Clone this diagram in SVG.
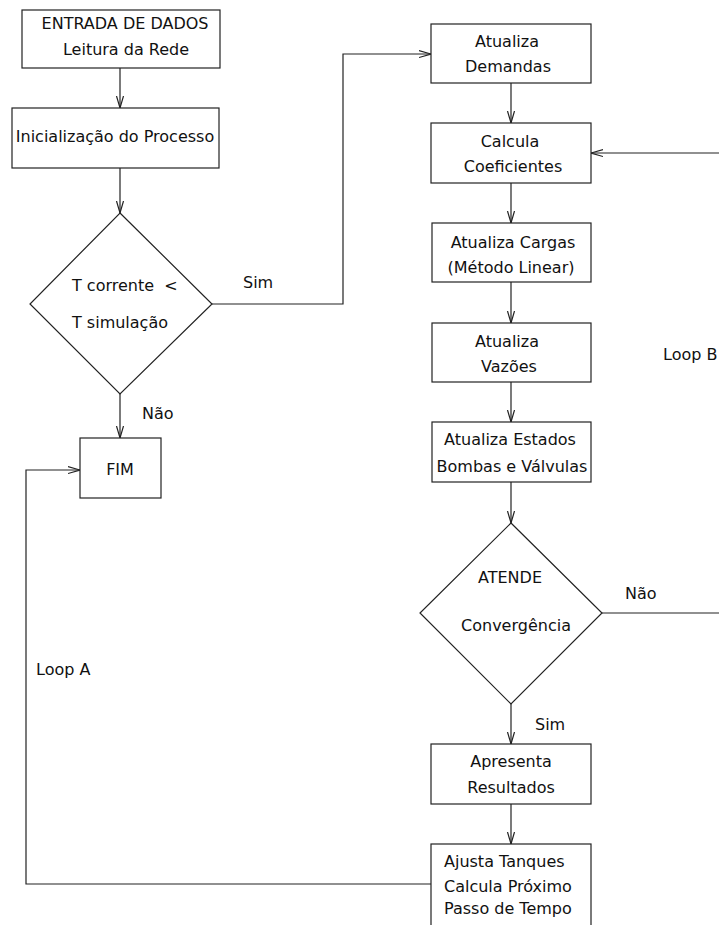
<svg xmlns="http://www.w3.org/2000/svg" width="719" height="925" viewBox="0 0 719 925">
<defs>
<style>
.box{fill:#fff;stroke:#222;stroke-width:1.2}
.ln{fill:none;stroke:#222;stroke-width:1.2}
.ar{marker-end:url(#v)}
text{font-family:"DejaVu Sans","Verdana",sans-serif;font-size:16px;fill:#111}
.c{text-anchor:middle}
</style>
<marker id="v" viewBox="0 0 12 10" refX="12" refY="5" markerWidth="12" markerHeight="10" markerUnits="userSpaceOnUse" orient="auto">
<path d="M0,1.5 L12,5 L0,8.5" fill="none" stroke="#222" stroke-width="1.2"/>
</marker>
</defs>
<rect width="719" height="925" fill="#fff"/>
<g id="connectors">
<path class="ln ar" d="M120,68 V108"/>
<path class="ln ar" d="M120,168 V213"/>
<path class="ln ar" d="M212,304 H343 V54 H431"/>
<path class="ln ar" d="M120,394 V438"/>
<path class="ln ar" d="M431,884 H26 V470 H80"/>
<path class="ln ar" d="M511,83 V123"/>
<path class="ln ar" d="M719,153 H591"/>
<path class="ln ar" d="M511,183 V223"/>
<path class="ln ar" d="M511,282 V323"/>
<path class="ln ar" d="M511,382 V422"/>
<path class="ln ar" d="M511,482 V523"/>
<path class="ln" d="M602,613 H719"/>
<path class="ln ar" d="M511,704 V744"/>
<path class="ln ar" d="M511,804 V844"/>
<text x="243" y="288">Sim</text>
<text x="142" y="419">Não</text>
<text x="625" y="599">Não</text>
<text x="535" y="730">Sim</text>
<text x="36" y="675">Loop A</text>
<text x="663" y="360">Loop B</text>
</g>
<g id="entrada">
<rect class="box" x="22" y="10" width="198" height="58"/>
<text class="c" x="125" y="29">ENTRADA DE DADOS</text>
<text class="c" x="126" y="55">Leitura da Rede</text>
</g>
<g id="inicializacao">
<rect class="box" x="12" y="108" width="207" height="60"/>
<text class="c" x="115" y="142">Inicialização do Processo</text>
</g>
<g id="decisao-tempo">
<polygon class="box" points="120,213 212,304 120,394 30,304"/>
<text x="72" y="291" xml:space="preserve">T corrente  &lt;</text>
<text x="72" y="328">T simulação</text>
</g>
<g id="fim">
<rect class="box" x="80" y="438" width="81" height="60"/>
<text class="c" x="120" y="475">FIM</text>
</g>
<g id="demandas">
<rect class="box" x="431" y="24" width="160" height="59"/>
<text class="c" x="507" y="47">Atualiza</text>
<text class="c" x="508" y="72">Demandas</text>
</g>
<g id="coeficientes">
<rect class="box" x="431" y="123" width="160" height="60"/>
<text class="c" x="510" y="147">Calcula</text>
<text class="c" x="513" y="172">Coeficientes</text>
</g>
<g id="cargas">
<rect class="box" x="432" y="223" width="159" height="59"/>
<text class="c" x="513" y="248">Atualiza Cargas</text>
<text class="c" x="511" y="273">(Método Linear)</text>
</g>
<g id="vazoes">
<rect class="box" x="432" y="323" width="159" height="59"/>
<text class="c" x="507" y="347">Atualiza</text>
<text class="c" x="509" y="372">Vazões</text>
</g>
<g id="estados">
<rect class="box" x="432" y="422" width="159" height="60"/>
<text class="c" x="510" y="445">Atualiza Estados</text>
<text class="c" x="512" y="472">Bombas e Válvulas</text>
</g>
<g id="convergencia">
<polygon class="box" points="511,523 602,613 511,704 420,613"/>
<text class="c" x="510" y="583">ATENDE</text>
<text class="c" x="516" y="631">Convergência</text>
</g>
<g id="resultados">
<rect class="box" x="431" y="744" width="160" height="60"/>
<text class="c" x="511" y="767">Apresenta</text>
<text class="c" x="511" y="793">Resultados</text>
</g>
<g id="ajusta">
<rect class="box" x="431" y="844" width="160" height="90"/>
<text x="444" y="867">Ajusta Tanques</text>
<text x="444" y="892">Calcula Próximo</text>
<text x="444" y="914">Passo de Tempo</text>
</g>
</svg>
